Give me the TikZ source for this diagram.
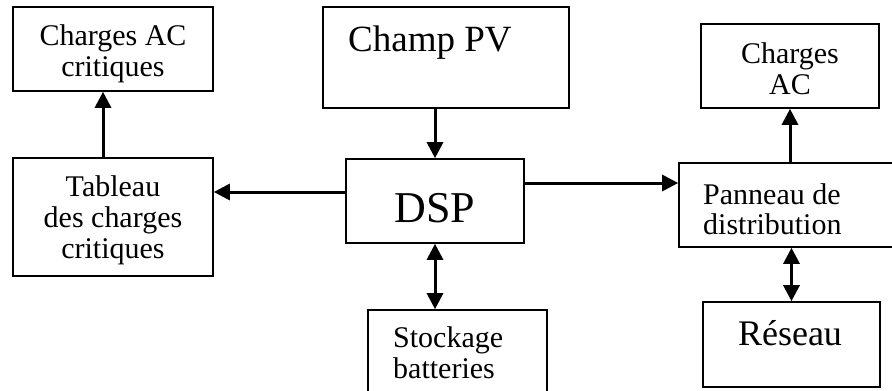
\documentclass[tikz,border=0pt]{standalone}
\usepackage{fontspec}
\setmainfont{Liberation Serif}
\usetikzlibrary{arrows.meta,calc}

\begin{document}
\begin{tikzpicture}[x=1pt, y=-1pt,
  box/.style={draw, line width=1.6pt, inner sep=0pt},
  txt/.style={inner sep=0pt, font=\fontsize{30}{31}\selectfont, align=center},
  arr/.style={line width=3pt, -{Triangle[length=16pt,width=16pt]}},
  darr/.style={line width=3pt, {Triangle[length=16pt,width=16pt]}-{Triangle[length=16pt,width=16pt]}}]
  \useasboundingbox (0,0) rectangle (892,391);
  \clip (0,0) rectangle (892,391);
  \fill[white] (0,0) rectangle (892,391);
  % boxes
  \node[box, minimum width=200pt, minimum height=84pt] (crit) at (113,49) {};
  \node[txt] (crittxt) at (113,53.5) {Charges AC\\critiques};
  \node[box, minimum width=200pt, minimum height=118pt] (tab) at (113,217) {};
  \node[txt] (tabtxt) at (113,220) {Tableau\\des charges\\critiques};
  \node[box, minimum width=246pt, minimum height=101pt] (pv) at (446,57.5) {};
  \node[txt, anchor=base west, font=\fontsize{37}{37}\selectfont] (pvtxt) at (348,51) {Champ PV};
  \node[box, minimum width=178pt, minimum height=84pt] (dsp) at (435,201) {};
  \node[txt, anchor=base, font=\fontsize{44}{44}\selectfont] (dsptxt) at (435,222) {DSP};
  \node[box, minimum width=179pt, minimum height=95pt] (sto) at (457.5,357.5) {};
  \node[txt, anchor=west, align=left] (stotxt) at (393,353) {Stockage\\batteries};
  \node[box, minimum width=178pt, minimum height=84pt] (chac) at (790,66) {};
  \node[txt] (chactxt) at (790,69) {Charges\\AC};
  \node[box, minimum width=226pt, minimum height=84pt] (pan) at (792,205) {};
  \node[txt, anchor=west, align=left, font=\fontsize{30}{30}\selectfont] (pantxt) at (703,209) {Panneau de\\distribution};
  \node[box, minimum width=177pt, minimum height=85pt] (res) at (791.5,344.5) {};
  \node[txt, anchor=base, font=\fontsize{36}{36}\selectfont] (restxt) at (790,345) {Réseau};
  % connectors
  \draw[arr] ([xshift=-10pt]tab.north) -- ([xshift=-10pt]crit.south);
  \draw[arr] ([yshift=9pt]dsp.west) -- ([yshift=9pt]dsp.west -| tab.east);
  \draw[arr] (pv.south -| dsp.north) -- (dsp.north);
  \draw[arr] ([yshift=18pt]dsp.east) -- ([yshift=18pt]dsp.east -| pan.west);
  \draw[darr] (dsp.south) -- (dsp.south |- sto.north);
  \draw[arr] (pan.north -| chac.south) -- (chac.south);
  \draw[darr] (pan.south -| res.north) -- (res.north);
\end{tikzpicture}
\end{document}
